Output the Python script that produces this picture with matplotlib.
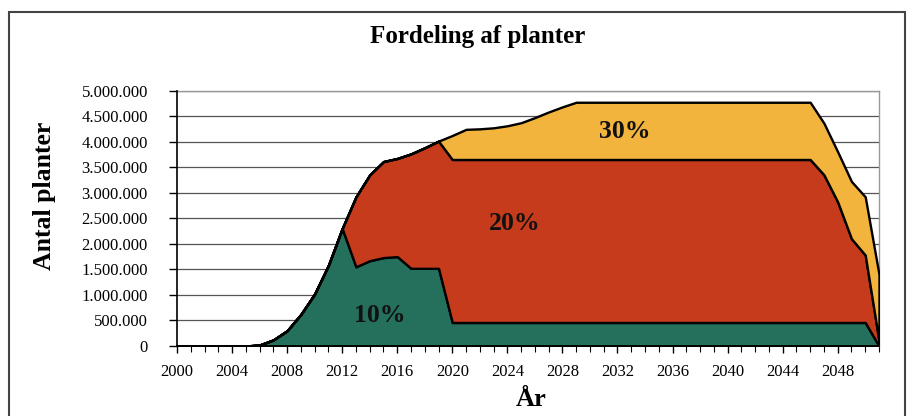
import matplotlib
matplotlib.use("Agg")
import matplotlib.pyplot as plt
from matplotlib.patches import Rectangle
from matplotlib.ticker import FuncFormatter, MultipleLocator

# Years on the category axis
years = list(range(2000, 2052))

# Number of plants per share (stacked layers)
plants_10 = [0, 0, 0, 0, 0, 0, 20000, 120000, 300000, 620000, 1020000, 1580000,
             2300000, 1550000, 1670000, 1730000, 1750000, 1520000, 1520000, 1520000] \
            + [460000] * 31 + [0]
plants_20 = [0] * 13 + [1370000, 1680000, 1880000, 1920000, 2240000, 2360000, 2490000] \
            + [3190000] * 27 + [2890000, 2360000, 1640000, 1320000, 100000]
plants_30 = [0] * 20 + [470000, 590000, 600000, 620000, 660000, 720000, 820000, 930000, 1030000] \
            + [1120000] * 18 + [1010000, 980000, 1120000, 1140000, 1300000]

layer_labels = ["10%", "20%", "30%"]
label_pos = [(2014.7, 600000), (2024.5, 2400000), (2032.5, 4200000)]
colors = ["#24705d", "#c53b1c", "#f2b43c"]

y_ticks = list(range(0, 5000001, 500000))

serif = ["Liberation Serif", "DejaVu Serif"]
plt.rcParams["font.family"] = serif

fig = plt.figure(figsize=(9.13, 4.16), dpi=100)
ax = fig.add_axes([177 / 913, 1 - 346 / 416, (879 - 177) / 913, (346 - 90.5) / 416])

ax.stackplot(years, plants_10, plants_20, plants_30, colors=colors,
             edgecolor="black", linewidth=1.7, zorder=3)

# Gridlines and plot-area frame
ax.set_xlim(2000, 2051)
ax.set_ylim(0, 5000000)
ax.set_yticks(y_ticks)
ax.yaxis.grid(True, color="#555555", linewidth=0.9, zorder=1)
ax.set_axisbelow(True)
for side in ["top", "right"]:
    ax.spines[side].set_color("#999999")
    ax.spines[side].set_linewidth(1.0)
for side in ["left", "bottom"]:
    ax.spines[side].set_color("black")
    ax.spines[side].set_linewidth(1.2)
    ax.spines[side].set_zorder(5)

ax.yaxis.set_major_formatter(FuncFormatter(lambda v, p: f"{int(v):,}".replace(",", ".")))
ax.xaxis.set_major_locator(MultipleLocator(4))
ax.xaxis.set_minor_locator(MultipleLocator(1))
ax.tick_params(axis="y", direction="out", length=6, width=1, labelsize=12, pad=15)
ax.tick_params(axis="x", which="major", direction="out", length=5, width=1, labelsize=12, pad=8)
ax.tick_params(axis="x", which="minor", direction="out", length=4, width=0.8)

for txt, (x, y) in zip(layer_labels, label_pos):
    ax.text(x, y, txt, fontsize=18.5, fontweight="bold", ha="center", va="center",
            color="#111111", zorder=6)

# Axis titles and chart title
fig.text(44 / 913, 1 - 196 / 416, "Antal planter", fontsize=18.5, fontweight="bold",
         rotation=90, ha="center", va="center")
fig.text(531 / 913, 1 - 399 / 416, "År", fontsize=19, fontweight="bold",
         ha="center", va="center")
fig.text(478 / 913, 1 - 37 / 416, "Fordeling af planter", fontsize=18,
         fontweight="bold", ha="center", va="center")

# Outer chart border
fig.patches.append(Rectangle((9 / 913, -0.05), (905 - 9) / 913, 1.05 - 12 / 416,
                             transform=fig.transFigure, fill=False,
                             edgecolor="#444444", linewidth=1.5))

fig.savefig("out.png", dpi=100)
